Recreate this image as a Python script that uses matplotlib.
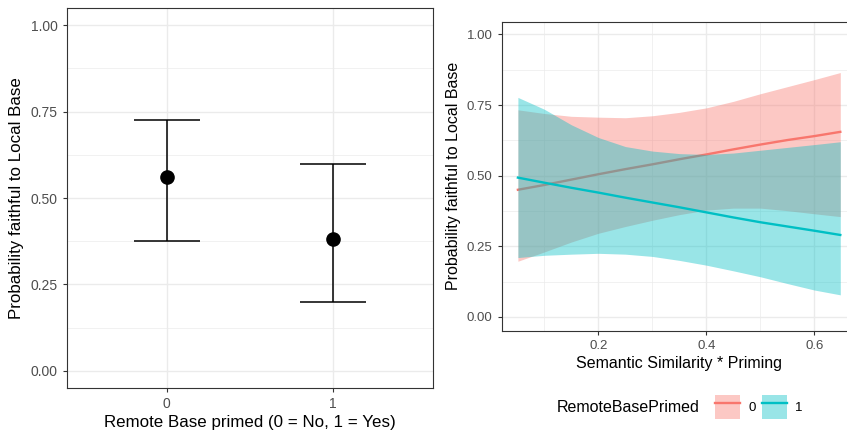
import matplotlib
matplotlib.use("Agg")
import matplotlib.pyplot as plt
from matplotlib.patches import Patch
from matplotlib.lines import Line2D
from matplotlib.legend_handler import HandlerTuple
import numpy as np

plt.rcParams['font.family'] = ['Liberation Sans', 'DejaVu Sans']

# left panel: predicted probability by priming condition
primed = [0, 1]
prob = [0.56, 0.382]
ci_low = [0.375, 0.200]
ci_high = [0.727, 0.598]

# right panel: fitted lines and ribbons vs semantic similarity * priming
sim = [0.051, 0.1, 0.15, 0.2, 0.25, 0.3, 0.35, 0.4, 0.45, 0.5, 0.55, 0.6, 0.648]
fit0 = [0.45, 0.467, 0.486, 0.505, 0.523, 0.54, 0.558, 0.575, 0.593, 0.61, 0.626, 0.64, 0.655]
up0 = [0.733, 0.72, 0.71, 0.707, 0.705, 0.712, 0.724, 0.74, 0.763, 0.79, 0.815, 0.84, 0.865]
lo0 = [0.197, 0.23, 0.265, 0.296, 0.32, 0.342, 0.362, 0.378, 0.385, 0.385, 0.376, 0.365, 0.355]
fit1 = [0.493, 0.475, 0.457, 0.44, 0.422, 0.405, 0.388, 0.37, 0.352, 0.335, 0.32, 0.305, 0.29]
up1 = [0.777, 0.735, 0.68, 0.635, 0.603, 0.587, 0.578, 0.575, 0.58, 0.59, 0.60, 0.61, 0.62]
lo1 = [0.21, 0.218, 0.222, 0.225, 0.222, 0.214, 0.2, 0.183, 0.163, 0.142, 0.118, 0.095, 0.078]

groups = ['0', '1']
colors = ['#F8766D', '#00BFC4']

W, H = 847, 432
fig = plt.figure(figsize=(W / 100, H / 100), dpi=100)

tick_col = '#4D4D4D'
grid_col = '#EBEBEB'


def style_axes(ax, tick_size):
    ax.set_facecolor('white')
    for s in ax.spines.values():
        s.set_color('#333333')
        s.set_linewidth(0.8)
    ax.tick_params(length=3, width=0.8, color='#333333', labelsize=tick_size,
                   labelcolor=tick_col, which='major')
    ax.tick_params(which='minor', length=0)
    ax.grid(True, which='major', color=grid_col, linewidth=1.0)
    ax.grid(True, which='minor', color=grid_col, linewidth=0.5)
    ax.set_axisbelow(True)


# ---- left panel
ax1 = fig.add_axes([66.7 / W, 1 - 388 / H, 366.3 / W, 380 / H])
style_axes(ax1, 10)
ax1.set_xlim(-0.6, 1.6)
ax1.set_ylim(-0.05, 1.05)
ax1.set_xticks(primed)
ax1.set_xticklabels([str(p) for p in primed])
ax1.set_yticks([0, 0.25, 0.5, 0.75, 1.0])
ax1.set_yticklabels(['0.00', '0.25', '0.50', '0.75', '1.00'])
ax1.set_yticks([0.125, 0.375, 0.625, 0.875], minor=True)
yerr = [np.array(prob) - np.array(ci_low), np.array(ci_high) - np.array(prob)]
ax1.errorbar(primed, prob, yerr=yerr, fmt='none', ecolor='black',
             elinewidth=1.1, capsize=24, capthick=1.1, zorder=3)
ax1.plot(primed, prob, 'o', color='black', markersize=9.5, zorder=4)
ax1.set_xlabel('Remote Base primed (0 = No, 1 = Yes)', fontsize=12.2, labelpad=3)
ax1.set_ylabel('Probability faithful to Local Base', fontsize=12.2, labelpad=5)

# ---- right panel (right border runs off the image, as in the original)
ax2 = fig.add_axes([501.7 / W, 1 - 331 / H, 354.8 / W, 309.3 / H])
style_axes(ax2, 9.5)
ax2.set_xlim(0.021, 0.678)
ax2.set_ylim(-0.05, 1.045)
ax2.set_xticks([0.2, 0.4, 0.6])
ax2.set_xticklabels(['0.2', '0.4', '0.6'])
ax2.set_xticks([0.1, 0.3, 0.5], minor=True)
ax2.set_yticks([0, 0.25, 0.5, 0.75, 1.0])
ax2.set_yticklabels(['0.00', '0.25', '0.50', '0.75', '1.00'])
ax2.set_yticks([0.125, 0.375, 0.625, 0.875], minor=True)

ax2.fill_between(sim, lo0, up0, color=colors[0], alpha=0.4, linewidth=0, zorder=2)
ax2.plot(sim, fit0, color=colors[0], linewidth=1.7, zorder=3)
ax2.fill_between(sim, lo1, up1, color=colors[1], alpha=0.4, linewidth=0, zorder=4)
ax2.plot(sim, fit1, color=colors[1], linewidth=1.7, zorder=5)

ax2.set_xlabel('Semantic Similarity * Priming', fontsize=11.5, labelpad=3)
ax2.set_ylabel('Probability faithful to Local Base', fontsize=11.5, labelpad=4)

# legend at the bottom with title to the left
fig.text(628 / W, 1 - 408 / H, 'RemoteBasePrimed', fontsize=11.5,
         ha='center', va='center')
handles = [(Patch(facecolor=c, alpha=0.4, edgecolor='none'),
            Line2D([], [], color=c, linewidth=1.7)) for c in colors]
fig.legend(handles, groups, loc='center left', bbox_to_anchor=(706 / W, 1 - 407 / H),
           ncol=2, frameon=False, fontsize=9.5, handlelength=1.9,
           handleheight=2.42, handletextpad=0.6, columnspacing=0.5,
           borderpad=0.2, handler_map={tuple: HandlerTuple(ndivide=1, pad=0)})

fig.savefig('out.png', dpi=100)
